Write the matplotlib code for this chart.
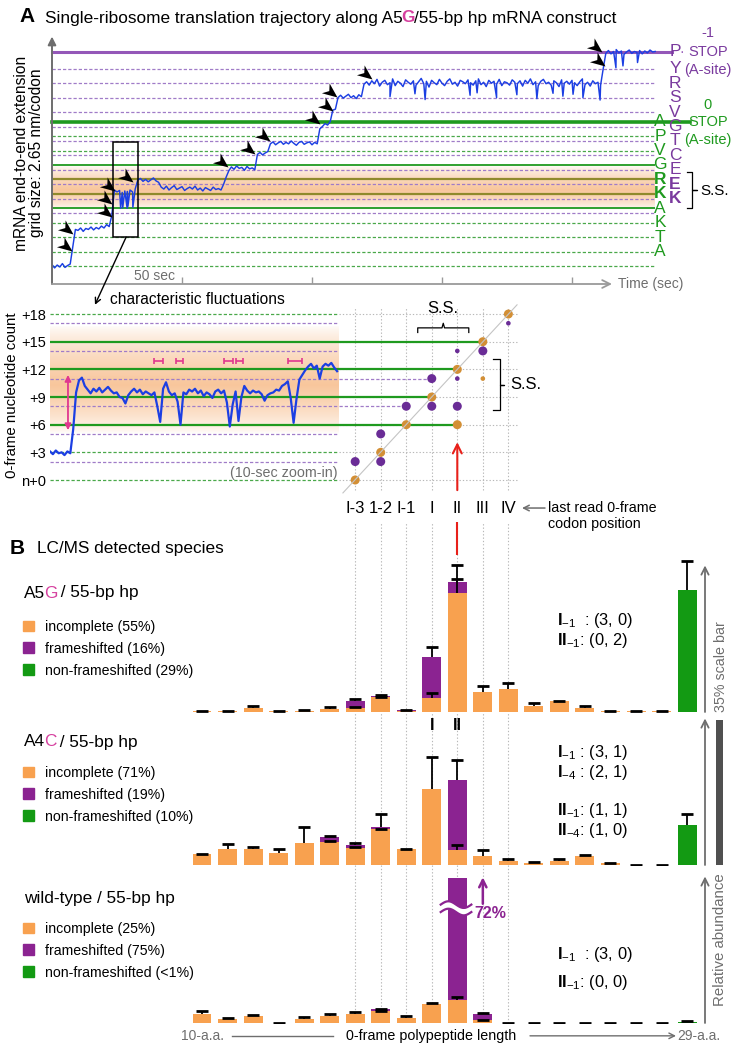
import numpy as np
import matplotlib as mpl
import matplotlib.pyplot as plt
from matplotlib.patches import Patch, Rectangle
from matplotlib.markers import MarkerStyle
from matplotlib.path import Path
from matplotlib.transforms import Affine2D, Bbox, TransformedBbox

mpl.rcParams['font.family'] = ['Liberation Sans', 'DejaVu Sans']
mpl.rcParams['mathtext.fontset'] = 'custom'
mpl.rcParams['mathtext.rm'] = 'Liberation Sans'
mpl.rcParams['mathtext.it'] = 'Liberation Sans:italic'
mpl.rcParams['mathtext.bf'] = 'Liberation Sans:bold'

# ---------------- panel A: trajectory, 0-frame nt, one sample per second ----------------
traj_nt = [0.3, -0.4, 0.2, -0.2, 0.5, -0.3, 0.1, 0.4,
           4.0,
           7.6, 7.4, 7.9, 7.2, 7.8, 7.6, 8.1, 7.5, 8.0, 7.7, 8.3, 7.9, 8.6, 8.2,
           10.5,
           15.8, 15.4, 15.7, 15.3, 15.6, 15.5, 15.8, 15.4,
           16.0, 17.9,
           18.2, 17.6, 18.0, 17.5, 17.9, 18.3, 17.7, 17.4,
           16.4,
           16.0, 16.6, 15.8, 16.3, 16.7, 15.9, 16.2, 16.5, 15.7, 16.1, 16.4, 16.0,
           16.6, 15.8, 16.2, 15.6, 16.3, 16.0, 15.7, 16.4, 15.9, 16.1, 15.8,
           17.0, 18.5, 19.8,
           20.6, 20.1, 20.8, 20.3, 20.5, 19.9, 20.7, 20.2, 20.4, 20.0,
           23.2, 23.6, 23.1, 23.5, 23.8,
           25.4, 25.8, 25.2, 25.6, 25.9, 25.3, 25.7, 25.4, 26.0, 25.5, 25.1, 25.7,
           25.9, 25.3, 25.6, 25.8, 25.2, 25.7, 25.4,
           28.5, 29.0, 29.6, 29.3, 30.0,
           32.4, 32.6, 35.0,
           35.5, 34.9, 35.3, 35.7, 35.0, 35.4, 34.8, 35.6, 35.2,
           37.8,
           38.3, 37.6, 38.5, 37.9, 38.8, 37.4, 38.2, 38.6, 37.7, 38.1,
           38.9, 37.5, 38.4, 38.0, 37.3, 38.7, 38.2, 37.8, 38.5, 37.6,
           38.3, 39.0, 37.9, 38.4, 37.2, 38.6, 38.1, 37.7, 38.8, 38.0,
           37.5, 38.4, 38.9, 37.8, 38.2, 37.4, 38.6, 38.3, 37.9, 38.7,
           38.1, 37.6, 38.5, 38.9, 37.7, 38.2, 37.3, 38.6, 38.0, 38.4,
           37.8, 38.8, 37.5, 38.3, 38.1, 37.6, 38.7, 38.2, 37.9, 38.5,
           37.4, 38.6, 38.0, 38.9, 37.7, 38.3, 37.5, 38.4, 38.8, 37.9,
           38.2, 37.6, 38.5, 38.1, 37.3, 38.7, 38.0, 38.4, 37.8, 38.6,
           38.1, 37.5, 38.3, 38.9, 37.7, 38.2, 37.4, 38.5, 37.9, 38.2, 37.6,
           41.0, 44.2,
           44.8, 44.1, 44.6, 45.0, 44.3, 44.7, 44.0, 44.5, 44.9, 44.2,
           44.6, 44.4, 44.8, 44.1, 44.7, 44.3, 44.9, 44.5, 44.6]
# short dips between the 1-s samples (s, nt)
dip_t = [26.4, 27.2, 28.9, 29.2, 31.1, 130.0, 139.6, 143.5, 160.8, 163.5, 171.0,
         178.8, 186.5, 192.7, 196.5, 200.4, 204.2, 210.8, 216.9, 219.6, 225.2]
dip_nt = [12.0, 12.1, 12.0, 12.4, 12.2, 35.2, 35.8, 34.6, 35.5, 36.0, 35.0,
          35.6, 34.8, 35.9, 35.3, 35.7, 35.0, 34.5, 41.2, 41.6, 42.3]
# arrowheads at translocation steps (s, nt)
step_t = [7.7, 8.1, 23.1, 23.1, 24.2, 31.2, 67.7, 78.1, 83.8, 103.1, 108.1, 109.6, 123.1, 211.5, 212.7]
step_nt = [3.1, 6.7, 10.2, 12.9, 15.6, 17.5, 20.6, 23.3, 26.0, 29.5, 32.2, 35.1, 38.9, 44.5, 41.6]

frame0_dashed = [0, 3, 6, 9, 24, 27]
frame0_solid = [12, 21]
frame0_band = [15, 18]
frame0_stop = 30
frameM1_dashed = [11, 14, 17, 20, 23, 26, 29, 32, 35, 38, 41]
frameM1_stop = 44.5
aa_frame0 = ['A', 'P', 'V', 'G', 'R', 'K', 'A', 'K', 'T', 'A']
aa_frame0_nt = [30, 27, 24, 21, 18, 15, 12, 9, 6, 3]
aa_frame0_bold = [0, 0, 0, 0, 1, 1, 0, 0, 0, 0]
aa_frameM1 = ['P', 'Y', 'R', 'S', 'V', 'G', 'T', 'C', 'E', 'E', 'K']
aa_frameM1_nt = [44.5, 41, 38, 35, 32, 29, 26, 23, 20, 17, 14]
aa_frameM1_bold = [0, 0, 0, 0, 0, 0, 0, 0, 0, 1, 1]
time_ticks = [50, 100, 150, 200]
zoom_box = (23.5, 6.0, 9.6, 19.8)   # t, nt, width, height

# ---------------- panel A: 10-s zoom-in (0.1 s samples) ----------------
zoom_dt = 0.1
zoom_nt = [3.1, 2.8, 3.2, 2.9, 3.0, 2.7, 3.1, 2.9, 5.5, 9.5,
           10.8, 11.1, 10.2, 9.8, 9.4, 9.9, 9.6, 10.0, 9.5, 9.8,
           10.1, 9.7, 9.4, 9.5, 9.0, 8.9, 8.3, 9.2, 9.6, 9.9,
           9.5, 9.8, 9.3, 9.6, 9.4, 9.2, 9.5, 8.0, 6.3, 9.9,
           10.6, 9.6, 9.2, 9.4, 8.5, 6.0, 9.5, 9.3, 9.8, 9.6,
           9.9, 9.4, 9.7, 9.1, 9.5, 9.3, 8.9, 9.6, 9.8, 9.4,
           9.7, 8.4, 5.8, 8.2, 9.6, 6.4, 9.0, 10.2, 9.7, 9.4,
           9.7, 9.5, 9.6, 9.3, 8.6, 9.2, 9.4, 9.5, 9.8, 9.7,
           10.2, 10.4, 10.7, 8.9, 6.2, 8.8, 10.9, 11.4, 11.9, 12.3,
           12.6, 12.1, 12.4, 11.0, 12.3, 12.6, 12.4, 12.7, 12.2, 11.8]
fluct_start = [3.6, 4.35, 6.0, 6.4, 8.2]
fluct_end = [3.9, 4.6, 6.3, 6.65, 8.7]
zoom_green_dashed = [0, 3, 18]
zoom_purple_dashed = [2, 5, 8, 11, 14, 17]
zoom_green_solid = [6, 9, 12, 15]
zoom_green_end = [20, 19, 20, 21]        # last column each solid line reaches
zoom_purple_ext = [8, 11]
zoom_purple_end = [18, 19]

# last read 0-frame codon position (columns sit on polypeptide lengths 16..22)
col_pos = [16, 17, 18, 19, 20, 21, 22]
col_labels = ['I-3', '1-2', 'I-1', 'I', 'II', 'III', 'IV']
orange_x = [16, 17, 18, 19, 20, 20, 21, 22, 21]
orange_nt = [0, 3, 6, 9, 6, 12, 15, 18, 11]
orange_big = [1, 1, 1, 1, 1, 1, 1, 1, 0]
purple_x = [16, 17, 17, 18, 19, 19, 20, 21, 20, 20, 22]
purple_nt = [2, 2, 5, 8, 8, 11, 8, 14, 11, 14, 17]
purple_big = [1, 1, 1, 1, 1, 1, 1, 1, 0, 0, 0]
diag_x = [15.52, 22.34]
diag_nt = [-1.4, 19.0]

# ---------------- panel B: LC/MS relative abundance (%) ----------------
aa_len = list(range(10, 30))
a5g_inc = [0.2, 0.2, 1.0, 0.2, 0.3, 0.8, 1.0, 3.6, 0.15, 3.4, 28.7, 4.8, 5.6, 1.45, 2.6, 1.0, 0.2, 0.2, 0.2, 0.0]
a5g_inc_err = [0.1, 0.1, 0.4, 0.1, 0.1, 0.4, 0.2, 0.0, None, 1.2, 3.5, 1.4, 1.4, 0.7, 0.1, 0.4, 0.1, 0.1, 0.1, None]
a5g_fs = [0, 0, 0, 0, 0, 0, 1.6, 0.3, 0.25, 9.9, 2.8, 0, 0, 0, 0, 0, 0, 0, 0, 0]
a5g_fs_err = [None] * 6 + [0.6, 0.3, 0.1, 2.4, 3.9] + [None] * 9
a5g_nonfs = [0] * 19 + [29.5]
a5g_nonfs_err = [None] * 19 + [6.9]

a4c_inc = [2.66, 3.8, 3.8, 2.8, 5.4, 5.6, 4.2, 8.6, 3.8, 18.3, 3.6, 2.2, 1.0, 0.6, 1.0, 2.2, 0.4, 0.0, 0.0, 0.0]
a4c_inc_err = [0.1, 1.2, 0.5, 1.0, 3.7, 0.2, 0.1, 0.1, 0.1, 7.9, 1.2, 1.4, 0.5, 0.1, 0.4, 0.1, 0.1, 0.0, 0.0, None]
a4c_fs = [0, 0, 0, 0, 0, 1.2, 0.6, 0.6, 0, 0, 16.9, 0, 0, 0, 0, 0, 0, 0, 0, 0]
a4c_fs_err = [None] * 5 + [0.2, 0.4, 3.2, None, None, 4.8] + [None] * 9
a4c_nonfs = [0] * 19 + [9.7]
a4c_nonfs_err = [None] * 19 + [2.6]

wt_inc = [2.25, 1.0, 1.8, 0.0, 1.0, 1.6, 2.25, 2.8, 1.2, 4.6, 5.6, 0.8, 0, 0, 0, 0, 0, 0, 0, 0]
wt_inc_err = [0.6, 0.2, 0.1, 0.0, 0.5, 0.5, 0.3, 0.0, 0.6, 0.2, 0.6, 0.0, 0, 0, 0, 0, 0, 0, 0, None]
wt_fs = [0, 0, 0, 0, 0, 0, 0, 0.6, 0, 0, 72.0, 1.4, 0, 0, 0, 0, 0, 0, 0, 0]
wt_fs_err = [None] * 7 + [0.1, None, None, None, 0.1] + [None] * 8
wt_nonfs = [0] * 19 + [0.3]
wt_nonfs_err = [None] * 19 + [0.1]

legend_a5g = ['incomplete (55%)', 'frameshifted (16%)', 'non-frameshifted (29%)']
legend_a4c = ['incomplete (71%)', 'frameshifted (19%)', 'non-frameshifted (10%)']
legend_wt = ['incomplete (25%)', 'frameshifted (75%)', 'non-frameshifted (<1%)']

# ---------------- colours ----------------
BLUE = '#1c3fe3'
GREEN = '#1f9a1f'
GREEN_D = '#4aa84a'
OLIVE = '#8f8a2c'
PURPLE_L = '#9457b8'
PURPLE_D = '#a07cc8'
ORANGE = '#f8a14f'
PURPLE = '#8b2391'
GREEN_B = '#139a13'
GRAY = '#6e6e6e'
DOT_OR = '#d38f35'
DOT_PU = '#6a2c96'
PINK = '#e0388f'
MAGENTA = '#d6409f'
GRID = '#b8b8b8'
DASH = (0, (2.6, 1.6))
DOT = (0, (1.2, 1.8))

W, H = 735, 1050
fig = plt.figure(figsize=(W / 100, H / 100), dpi=100)


def px_axes(l, t, r, b):
    ax = fig.add_axes([l / W, 1 - b / H, (r - l) / W, (b - t) / H])
    ax.set_facecolor('none')
    for s in ax.spines.values():
        s.set_visible(False)
    ax.set_xticks([])
    ax.set_yticks([])
    return ax


def ftext(x, y, s, **kw):
    return fig.text(x / W, 1 - y / H, s, **kw)


def chain(x, y, parts, size):
    # several colours in one line of text
    prev = ftext(x, y, parts[0][0], color=parts[0][1], fontsize=size, va='center',
                 fontweight=parts[0][2])
    for s, c, w in parts[1:]:
        prev = fig.axes[0].annotate(s, xy=(1, 0), xycoords=prev, xytext=(-0.8, 0),
                                    textcoords='offset points', va='bottom', ha='left',
                                    color=c, fontsize=size, fontweight=w,
                                    annotation_clip=False)


def band(ax, x0, x1, y0, y1, peak):
    prof = np.interp(np.linspace(0, 1, 120), [0, peak, 1], [0, 1, 0])
    img = np.zeros((120, 2, 4))
    img[..., 0], img[..., 1], img[..., 2] = 0.95, 0.57, 0.25
    img[..., 3] = (prof ** 0.7 * 0.52)[:, None]
    ax.imshow(img, extent=(x0, x1, y0, y1), origin='lower', aspect='auto',
              interpolation='bilinear', zorder=0)


# ======================= A: full trajectory =======================
T_PX, NT_PX = 2.6, 4.81
ax_t = px_axes(52, 38, 657, 284)
xlim_t = (0, 605 / T_PX)
ylim_t = (-(284 - 266) / NT_PX, (266 - 38) / NT_PX)
t_end = (655 - 52) / T_PX

band(ax_t, 0, t_end, 11.6, 20.8, 0.45)
ax_t.hlines(frame0_dashed, 0, t_end, color=GREEN_D, lw=0.9, ls=DASH, zorder=1)
ax_t.hlines(frameM1_dashed, 0, t_end, color=PURPLE_D, lw=0.9, ls=DASH, zorder=1)
ax_t.hlines(frame0_solid, 0, t_end, color=GREEN, lw=1.3, zorder=1)
ax_t.hlines(frame0_band, 0, t_end, color=OLIVE, lw=1.6, zorder=1)
ax_t.plot([0, (690 - 52) / T_PX], [frame0_stop] * 2, color=GREEN, lw=2.6, zorder=1, clip_on=False)
ax_t.plot([0, (672 - 52) / T_PX], [frameM1_stop] * 2, color=PURPLE_L, lw=2.2, zorder=1, clip_on=False)

tt = np.concatenate([np.arange(len(traj_nt)), dip_t])
yy = np.concatenate([traj_nt, dip_nt])
order = np.argsort(tt)
ax_t.plot(tt[order], yy[order], color=BLUE, lw=1.05, zorder=3)

head = Path([(0, 0), (-1, 0.42), (-0.7, 0), (-1, -0.42), (0, 0)],
            [Path.MOVETO, Path.LINETO, Path.LINETO, Path.LINETO, Path.CLOSEPOLY])
ax_t.scatter(step_t, step_nt, marker=MarkerStyle(head, transform=Affine2D().rotate_deg(-38)),
             s=460, color='k', linewidths=0, zorder=4)

ax_t.add_patch(Rectangle(zoom_box[:2], zoom_box[2], zoom_box[3], fill=False, ec='k', lw=1.1, zorder=5))

# axes arrows and ticks
ax_t.annotate('', xy=(0, ylim_t[1] + 0.3), xytext=(0, ylim_t[0]),
              arrowprops=dict(arrowstyle='-|>', color=GRAY, lw=1.4, mutation_scale=12, shrinkA=0, shrinkB=0),
              annotation_clip=False)
ax_t.annotate('', xy=((612 - 52) / T_PX, ylim_t[0]), xytext=(0, ylim_t[0]),
              arrowprops=dict(arrowstyle='->', color='#9a9a9a', lw=1.3, mutation_scale=14, shrinkA=0, shrinkB=0),
              annotation_clip=False)
ax_t.vlines(time_ticks, ylim_t[0], ylim_t[0] + 7 / NT_PX, color='#9a9a9a', lw=1.0)
ax_t.text(47.3, -2.1, '50 sec', ha='right', va='center', color=GRAY, fontsize=10)
ax_t.text((618 - 52) / T_PX, ylim_t[0], 'Time (sec)', ha='left', va='center', color=GRAY, fontsize=10)

# amino-acid columns
for s, y, b in zip(aa_frame0, aa_frame0_nt, aa_frame0_bold):
    ax_t.text((660 - 52) / T_PX, y, s, ha='center', va='center', color=GREEN, fontsize=12.5,
              fontweight='bold' if b else 'normal')
for s, y, b in zip(aa_frameM1, aa_frameM1_nt, aa_frameM1_bold):
    ax_t.text((675 - 52) / T_PX, y, s, ha='center', va='center', color='#7a3a9e', fontsize=12.5,
              fontweight='bold' if b else 'normal')
ax_t.text((682 - 52) / T_PX, frameM1_stop, '·', ha='center', va='center', color=PURPLE_L, fontsize=10)
xs = (708 - 52) / T_PX
for s, y in zip(['-1', 'STOP', '(A-site)'], [48.4, 44.5, 40.7]):
    ax_t.text(xs, y, s, ha='center', va='center', color='#7a3a9e', fontsize=10.5)
for s, y in zip(['0', 'STOP', '(A-site)'], [33.5, 30.0, 26.2]):
    ax_t.text(xs, y, s, ha='center', va='center', color=GREEN, fontsize=10.5)
bx0, bx1, bx2 = (686.7 - 52) / T_PX, (691.7 - 52) / T_PX, (696.7 - 52) / T_PX
ax_t.plot([bx0, bx1, bx1, bx2, bx1, bx1, bx0], [19.6, 19.6, 15.7, 15.7, 15.7, 12.0, 12.0],
          color='k', lw=0.9, clip_on=False)
ax_t.text((700 - 52) / T_PX, 15.5, 'S.S.', ha='left', va='center', fontsize=11)

ax_t.set_xlim(*xlim_t)
ax_t.set_ylim(*ylim_t)
ax_t.set_xticks([])
ax_t.set_yticks([])

# ======================= A: zoom-in and codon positions =======================
Z_PX, ZN_PX = 29, 9.22
ylim_z = (-(545 - 480) / ZN_PX, (480 - 300) / ZN_PX)
ax_z = px_axes(50, 300, 339, 545)
xmax_z = 289 / Z_PX
band(ax_z, 0, xmax_z, 5.0, 16.8, 0.45)
ax_z.hlines(zoom_green_dashed, 0, xmax_z, color=GREEN_D, lw=0.9, ls=DASH, zorder=1)
ax_z.hlines(zoom_purple_dashed, 0, xmax_z, color=PURPLE_D, lw=0.9, ls=DASH, zorder=1)
ax_z.hlines(zoom_green_solid, 0, xmax_z, color=GREEN, lw=1.6, zorder=1)
ax_z.plot(np.arange(len(zoom_nt)) * zoom_dt, zoom_nt, color=BLUE, lw=1.6, zorder=3)
fs_c = (np.array(fluct_start) + np.array(fluct_end)) / 2
fs_h = (np.array(fluct_end) - np.array(fluct_start)) / 2
ax_z.errorbar(fs_c, [12.9] * len(fs_c), xerr=fs_h, fmt='none', ecolor=PINK, elinewidth=1.2,
              capsize=2.5, capthick=1.2, zorder=4)
ax_z.annotate('', xy=(0.62, 11.4), xytext=(0.62, 5.4),
              arrowprops=dict(arrowstyle='<|-|>', color=PINK, lw=1.3, mutation_scale=9, shrinkA=0, shrinkB=0))
ax_z.text(9.93, 0.8, '(10-sec zoom-in)', ha='right', va='center', color=GRAY, fontsize=10.3)
ax_z.set_xlim(0, xmax_z)
ax_z.set_ylim(*ylim_z)
ax_z.set_yticks(range(0, 19, 3), ['n+0', '+3', '+6', '+9', '+12', '+15', '+18'])
ax_z.tick_params(axis='y', length=0, pad=3, labelsize=10.5)
ax_z.annotate('', xy=(1.55, 19.0), xytext=(28.5, 6.0), textcoords=ax_t.transData,
              arrowprops=dict(arrowstyle='->', color='k', lw=1.0, shrinkA=0, shrinkB=0),
              annotation_clip=False)

AA0, AA_PX = 202, 25.53


def aa_x(px):
    return 10 + (px - AA0) / AA_PX


ax_d = px_axes(339, 300, 525, 545)
ax_d.hlines(range(0, 19, 3), aa_x(339), aa_x(518), color=GRID, lw=0.8, ls=DOT, zorder=0)
ax_d.vlines(col_pos, -1.1, 18.8, color=GRID, lw=0.8, ls=DOT, zorder=0)
ax_d.vlines(col_pos, ylim_z[0], -4.6, color=GRID, lw=0.8, ls=DOT, zorder=0)
for y, e in zip(zoom_green_solid, zoom_green_end):
    ax_d.hlines(y, aa_x(339), e, color=GREEN, lw=1.6, zorder=1)
for y, e in zip(zoom_purple_ext, zoom_purple_end):
    ax_d.hlines(y, aa_x(339), e, color=PURPLE_D, lw=0.9, ls=DASH, zorder=1)
ax_d.scatter(orange_x, orange_nt, s=[42 if b else 11 for b in orange_big], color=DOT_OR, lw=0, zorder=3)
ax_d.scatter(purple_x, purple_nt, s=[42 if b else 11 for b in purple_big], color=DOT_PU, lw=0, zorder=3)
ax_d.plot(diag_x, diag_nt, color='#c4c4c4', lw=0.8, zorder=4)
for c, lab in zip(col_pos, col_labels):
    ax_d.text(c, -3.04, lab, ha='center', va='center', fontsize=12)
ax_d.annotate('', xy=(20, 4.1), xytext=(20, -1.1),
              arrowprops=dict(arrowstyle='->', color='#e8201a', lw=1.5, mutation_scale=16, shrinkA=0, shrinkB=0))
ax_d.vlines(20, ylim_z[0], -4.6, color='#e8201a', lw=1.5)
ax_d.annotate('', xy=(aa_x(522), -3.04), xytext=(aa_x(545), -3.04),
              arrowprops=dict(arrowstyle='->', color=GRAY, lw=1.1, shrinkA=0, shrinkB=0),
              annotation_clip=False)
ax_d.plot([18.45, 18.45, 19.4, 19.45, 19.5, 20.45, 20.45], [16.0, 16.5, 16.5, 17.0, 16.5, 16.5, 16.0],
          color='k', lw=0.9, clip_on=False)
ax_d.text(19.45, 18.65, 'S.S.', ha='center', va='center', fontsize=12)
ax_d.plot([21.4, 21.67, 21.67, 21.82, 21.67, 21.67, 21.4], [13.1, 13.1, 10.35, 10.35, 10.35, 7.6, 7.6],
          color='k', lw=0.9, clip_on=False)
ax_d.text(22.06, 10.4, 'S.S.', ha='left', va='center', fontsize=12)
ax_d.set_xlim(aa_x(339), aa_x(525))
ax_d.set_ylim(*ylim_z)

# ======================= B: LC/MS bars =======================
PCT_PX = 4.14
BW = 19 / AA_PX


def bar_axes(top, base):
    ax = px_axes(0, top, 735, base)
    ax.set_xlim(aa_x(0), aa_x(735))
    ax.set_ylim(0, (base - top) / PCT_PX)
    ax.vlines(col_pos, 0, (base - top) / PCT_PX, color=GRID, lw=0.8, ls=DOT, zorder=0)
    return ax


def stack(ax, inc, inc_err, fs, fs_err, nonfs, nonfs_err, clip_top=None):
    x = np.array(aa_len, float)
    inc = np.array(inc, float)
    fs = np.array(fs, float)
    nonfs = np.array(nonfs, float)
    ax.bar(x, inc, BW, color=ORANGE, lw=0, zorder=2)
    bars = ax.bar(x, fs, BW, bottom=inc, color=PURPLE, lw=0, zorder=2)
    ax.bar(x, nonfs, BW, color=GREEN_B, lw=0, zorder=2)
    if clip_top is not None:
        for p in bars:
            p.set_clip_box(TransformedBbox(Bbox([[x[0] - 1, 0], [x[-1] + 1, clip_top]]), ax.transData))
    for top, err in ((inc, inc_err), (inc + fs, fs_err), (nonfs, nonfs_err)):
        err = np.array([np.nan if e is None else e for e in err], float)
        m = ~np.isnan(err)
        _, caps, _ = ax.errorbar(x[m], top[m], yerr=[np.zeros(m.sum()), err[m]], fmt='none',
                                 ecolor='k', elinewidth=1.3, capsize=4.3, capthick=2.0, zorder=3)
        caps[0].set_visible(False)


def legend(ax, labels, top_px):
    h = [Patch(color=ORANGE), Patch(color=PURPLE), Patch(color=GREEN_B)]
    ax.legend(h, labels, loc='upper left', bbox_to_anchor=(23 / W, 1 - top_px / H),
              bbox_transform=fig.transFigure, frameon=False, fontsize=10.2, handlelength=0.8,
              handleheight=0.8, handletextpad=0.75, labelspacing=0.55, borderpad=0, borderaxespad=0)


ax1 = bar_axes(545, 712)
ax2 = bar_axes(712, 865)
ax3 = bar_axes(865, 1023)
stack(ax1, a5g_inc, a5g_inc_err, a5g_fs, a5g_fs_err, a5g_nonfs, a5g_nonfs_err)
stack(ax2, a4c_inc, a4c_inc_err, a4c_fs, a4c_fs_err, a4c_nonfs, a4c_nonfs_err)
stack(ax3, wt_inc, wt_inc_err, wt_fs, wt_fs_err, wt_nonfs, wt_nonfs_err, clip_top=35)
legend(ax1, legend_a5g, 620)
legend(ax2, legend_a4c, 766)
legend(ax3, legend_wt, 922)

ax1.vlines(20, 37.9, (712 - 545) / PCT_PX, color='#e8201a', lw=1.5, zorder=4)
ax2.text(19, 33.8, 'I', ha='center', va='center', fontsize=11.5, fontweight='bold')
ax2.text(20, 33.8, 'II', ha='center', va='center', fontsize=11.5, fontweight='bold')

for ax in (ax1, ax2, ax3):
    ax.annotate('', xy=(aa_x(705), 35.4), xytext=(aa_x(705), 0),
                arrowprops=dict(arrowstyle='->', color=GRAY, lw=1.3, mutation_scale=13, shrinkA=0, shrinkB=0),
                annotation_clip=False)
ax2.bar(aa_x(720), 35, 7 / AA_PX, color='#505050', lw=0, clip_on=False)

# broken frameshifted bar in wild-type
bx = np.linspace(19.35, 20.55, 40)
wave = 0.8 * np.sin((bx - 19.35) / 1.2 * 2 * np.pi)
ax3.fill_between(bx, 26.8 + wave, 28.6 + wave, color='white', lw=0, zorder=6)
ax3.plot(bx, 26.8 + wave, color=PURPLE, lw=1.6, zorder=7)
ax3.plot(bx, 28.6 + wave, color=PURPLE, lw=1.6, zorder=7)
ax3.annotate('', xy=(21, 35.2), xytext=(21, 28.8),
             arrowprops=dict(arrowstyle='->', color=PURPLE, lw=1.8, mutation_scale=13, shrinkA=0, shrinkB=0))
ax3.text(21.3, 26.4, '72%', color=PURPLE, fontweight='bold', fontsize=11.5, ha='center', va='center')

# length axis
ax3.text(10, -3.1, '10-a.a.', ha='center', va='center', color=GRAY, fontsize=10)
ax3.plot([aa_x(232), aa_x(333)], [-3.1, -3.1], color=GRAY, lw=1.0, clip_on=False)
ax3.text(aa_x(431), -3.1, '0-frame polypeptide length', ha='center', va='center', fontsize=10.3)
ax3.annotate('', xy=(aa_x(676), -3.1), xytext=(aa_x(530), -3.1),
             arrowprops=dict(arrowstyle='->', color=GRAY, lw=1.0, shrinkA=0, shrinkB=0),
             annotation_clip=False)
ax3.text(aa_x(677), -3.1, '29-a.a.', ha='left', va='center', color=GRAY, fontsize=10)

# ======================= free text =======================
ftext(27, 17, 'A', fontweight='bold', fontsize=15, ha='center', va='center')
chain(45, 18, [('Single-ribosome translation trajectory along A5', 'k', 'normal'),
               ('G', MAGENTA, 'bold'), ('/55-bp hp mRNA construct', 'k', 'normal')], 12.4)
ftext(22, 153, 'mRNA end-to-end extension', rotation=90, ha='center', va='center', fontsize=11.2)
ftext(37, 153, 'grid size: 2.65 nm/codon', rotation=90, ha='center', va='center', fontsize=11.2)
ftext(110, 299, 'characteristic fluctuations', ha='left', va='center', fontsize=11.2)
ftext(12, 395, '0-frame nucleotide count', rotation=90, ha='center', va='center', fontsize=10.8)
ftext(548, 516, 'last read 0-frame\ncodon position', ha='left', va='center', fontsize=10.3, linespacing=1.15)

ftext(17, 548, 'B', fontweight='bold', fontsize=15, ha='center', va='center')
ftext(37, 548, 'LC/MS detected species', ha='left', va='center', fontsize=12.4)
chain(24, 593, [('A5', 'k', 'normal'), ('G', MAGENTA, 'normal'), (' / 55-bp hp', 'k', 'normal')], 12.4)
chain(24, 742, [('A4', 'k', 'normal'), ('C', MAGENTA, 'normal'), (' / 55-bp hp', 'k', 'normal')], 12.4)
ftext(24, 898, 'wild-type / 55-bp hp', ha='left', va='center', fontsize=12.4)

ann_kw = dict(ha='left', va='center', fontsize=11.8)
ftext(557, 620, r'$\mathbf{I}_{-1}$  : (3, 0)', **ann_kw)
ftext(557, 640, r'$\mathbf{II}_{-1}$: (0, 2)', **ann_kw)
ftext(557, 752, r'$\mathbf{I}_{-1}$ : (3, 1)', **ann_kw)
ftext(557, 773, r'$\mathbf{I}_{-4}$ : (2, 1)', **ann_kw)
ftext(557, 810, r'$\mathbf{II}_{-1}$: (1, 1)', **ann_kw)
ftext(557, 831, r'$\mathbf{II}_{-4}$: (1, 0)', **ann_kw)
ftext(557, 955, r'$\mathbf{I}_{-1}$  : (3, 0)', **ann_kw)
ftext(557, 983, r'$\mathbf{II}_{-1}$: (0, 0)', **ann_kw)
ftext(721, 667, '35% scale bar', rotation=90, ha='center', va='center', color=GRAY, fontsize=10.3)
ftext(720, 940, 'Relative abundance', rotation=90, ha='center', va='center', color=GRAY, fontsize=10.8)

fig.savefig('out.png', dpi=100)
